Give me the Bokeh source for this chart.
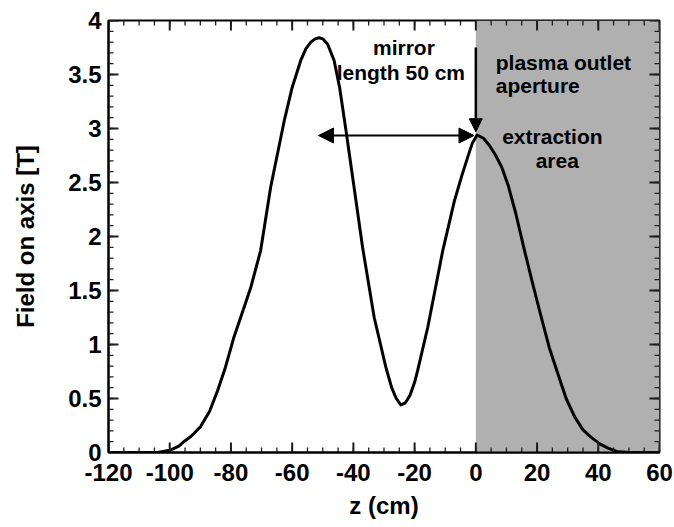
import numpy as np
from bokeh.plotting import figure
from bokeh.models import (Range1d, FixedTicker, BoxAnnotation, Arrow,
                          NormalHead, Label, ColumnDataSource)
from bokeh.embed import file_html
from bokeh.resources import INLINE

# ---- data ----
z_cm = [-120, -110, -104, -100, -97, -95.4, -93, -89.9, -87, -84.4, -82, -79.0, -76,
        -73.5, -70.3, -67.0, -62.6, -60, -57.2, -55.5, -53.9, -52.5, -51.2, -50, -48.4,
        -46.3, -44.5, -42.4, -40, -37.0, -33.2, -29.4, -27.5, -26, -24.5, -23, -21.5,
        -20, -19.0, -15.7, -10.8, -7.0, -4.5, -2.6, -1.2, 0.4, 2.5, 4.5, 6.5, 8.5,
        10.5, 13, 15.9, 18.6, 21.4, 24, 26.8, 29.5, 32.3, 35, 37.7, 40.5, 43.2, 46, 50, 60]
field_T = [0, 0, 0, 0.02, 0.06, 0.10, 0.15, 0.24, 0.38, 0.57, 0.77, 1.07, 1.32,
           1.53, 1.87, 2.46, 3.07, 3.38, 3.63, 3.74, 3.80, 3.83, 3.84, 3.83, 3.78,
           3.63, 3.38, 2.98, 2.50, 1.90, 1.25, 0.79, 0.60, 0.50, 0.44, 0.46, 0.53,
           0.65, 0.76, 1.16, 1.87, 2.33, 2.57, 2.74, 2.86, 2.94, 2.91, 2.84, 2.75, 2.64,
           2.48, 2.22, 1.87, 1.56, 1.25, 0.97, 0.73, 0.50, 0.33, 0.21, 0.14, 0.08, 0.04,
           0.01, 0, 0]

x_ticks = [-120, -100, -80, -60, -40, -20, 0, 20, 40, 60]
x_tick_labels = ["-120", "-100", "-80", "-60", "-40", "-20", "0", "20", "40", "60"]
y_ticks = [0, 0.5, 1, 1.5, 2, 2.5, 3, 3.5, 4]
y_tick_labels = ["0", "0.5", "1", "1.5", "2", "2.5", "3", "3.5", "4"]

extraction_region = (0, 60)          # shaded extraction area (cm)
mirror_arrow = (-51.4, -0.6, 2.935)  # z start, z end, field level
outlet_arrow = (0, 3.75, 2.97)       # z, field start, field end

FONT = "Liberation Sans"
X0, X1, Y0, Y1 = -120, 60, 0, 4
FW, FH = 551, 432
TICK_COLOR = "#1e1e1e"

p = figure(frame_width=FW, frame_height=FH,
           x_range=Range1d(X0, X1), y_range=Range1d(Y0, Y1),
           output_backend="svg", toolbar_location=None,
           min_border_left=108, min_border_right=15, min_border_top=20, min_border_bottom=10,
           x_axis_label="z (cm)", y_axis_label="Field on axis [T]")
p.background_fill_color = "white"
p.border_fill_color = "white"
p.outline_line_color = "black"
p.outline_line_width = 2
p.xgrid.visible = False
p.ygrid.visible = False

x_minor = [float(v) for v in np.arange(X0, X1 + 0.1, 5)]
y_minor = [float(v) for v in np.round(np.arange(Y0, Y1 + 0.01, 0.1), 2)]


def style_axis(ax, ticks, labels):
    ax.ticker = FixedTicker(ticks=ticks)
    ax.axis_line_width = 2
    ax.major_tick_in = 0
    ax.major_tick_out = 0
    ax.minor_tick_in = 0
    ax.minor_tick_out = 0
    ax.major_label_text_font = FONT
    ax.major_label_text_font_style = "bold"
    ax.major_label_text_font_size = "24px"
    ax.major_label_text_color = "black"
    ax.axis_label_text_font = FONT
    ax.axis_label_text_font_style = "bold"
    ax.axis_label_text_font_size = "24px"
    ax.axis_label_text_color = "black"
    ax.major_label_overrides = {float(t): s for t, s in zip(ticks, labels)}


style_axis(p.xaxis[0], x_ticks, x_tick_labels)
style_axis(p.yaxis[0], y_ticks, y_tick_labels)
p.xaxis[0].major_label_standoff = 11
p.xaxis[0].axis_label_standoff = 8
p.yaxis[0].major_label_standoff = 7
p.yaxis[0].axis_label_standoff = 26

# shaded extraction area
p.add_layout(BoxAnnotation(left=extraction_region[0], right=extraction_region[1],
                           fill_color="#b0b0b0", fill_alpha=1.0, line_color=None,
                           level="underlay"))

src = ColumnDataSource(dict(z=z_cm, b=field_T))
p.line("z", "b", source=src, line_color="black", line_width=3, line_join="round")

# inward tick marks on all four sides (length in px converted to data units)
dx_per_px = (X1 - X0) / FW
dy_per_px = (Y1 - Y0) / FH
MAJ, MIN = 10, 5
nxM, nxm, nyM, nym = len(x_ticks), len(x_minor), len(y_ticks), len(y_minor)
p.segment(x0=list(x_ticks), y0=[Y0] * nxM, x1=list(x_ticks), y1=[Y0 + MAJ * dy_per_px] * nxM,
          line_color=TICK_COLOR, line_width=2)
p.segment(x0=list(x_ticks), y0=[Y1] * nxM, x1=list(x_ticks), y1=[Y1 - MAJ * dy_per_px] * nxM,
          line_color=TICK_COLOR, line_width=2)
p.segment(x0=list(x_minor), y0=[Y0] * nxm, x1=list(x_minor), y1=[Y0 + MIN * dy_per_px] * nxm,
          line_color=TICK_COLOR, line_width=1.3)
p.segment(x0=list(x_minor), y0=[Y1] * nxm, x1=list(x_minor), y1=[Y1 - MIN * dy_per_px] * nxm,
          line_color=TICK_COLOR, line_width=1.3)
p.segment(x0=[X0] * nyM, y0=list(y_ticks), x1=[X0 + MAJ * dx_per_px] * nyM, y1=list(y_ticks),
          line_color=TICK_COLOR, line_width=2)
p.segment(x0=[X1] * nyM, y0=list(y_ticks), x1=[X1 - MAJ * dx_per_px] * nyM, y1=list(y_ticks),
          line_color=TICK_COLOR, line_width=2)
p.segment(x0=[X0] * nym, y0=list(y_minor), x1=[X0 + MIN * dx_per_px] * nym, y1=list(y_minor),
          line_color=TICK_COLOR, line_width=1.3)
p.segment(x0=[X1] * nym, y0=list(y_minor), x1=[X1 - MIN * dx_per_px] * nym, y1=list(y_minor),
          line_color=TICK_COLOR, line_width=1.3)

# arrows
p.add_layout(Arrow(start=NormalHead(size=15, fill_color="black", line_color="black"),
                   end=NormalHead(size=15, fill_color="black", line_color="black"),
                   x_start=mirror_arrow[0], x_end=mirror_arrow[1],
                   y_start=mirror_arrow[2], y_end=mirror_arrow[2],
                   line_width=2, line_color="black"))
p.add_layout(Arrow(end=NormalHead(size=13, fill_color="black", line_color="black"),
                   x_start=outlet_arrow[0], x_end=outlet_arrow[0],
                   y_start=outlet_arrow[1], y_end=outlet_arrow[2],
                   line_width=2.5, line_color="black"))


def add_label(x, y, txt, align="center"):
    p.add_layout(Label(x=x, y=y, text=txt, text_align=align, text_baseline="middle",
                       text_font=FONT, text_font_style="bold", text_font_size="21px",
                       text_color="black"))


add_label(-23.5, 3.75, "mirror")
add_label(-24.5, 3.52, "length 50 cm")
add_label(6.5, 3.615, "plasma outlet", "left")
add_label(6.5, 3.40, "aperture", "left")
add_label(25.0, 2.93, "extraction")
add_label(26.6, 2.70, "area")

open("out.html", "w").write(file_html(p, INLINE))
